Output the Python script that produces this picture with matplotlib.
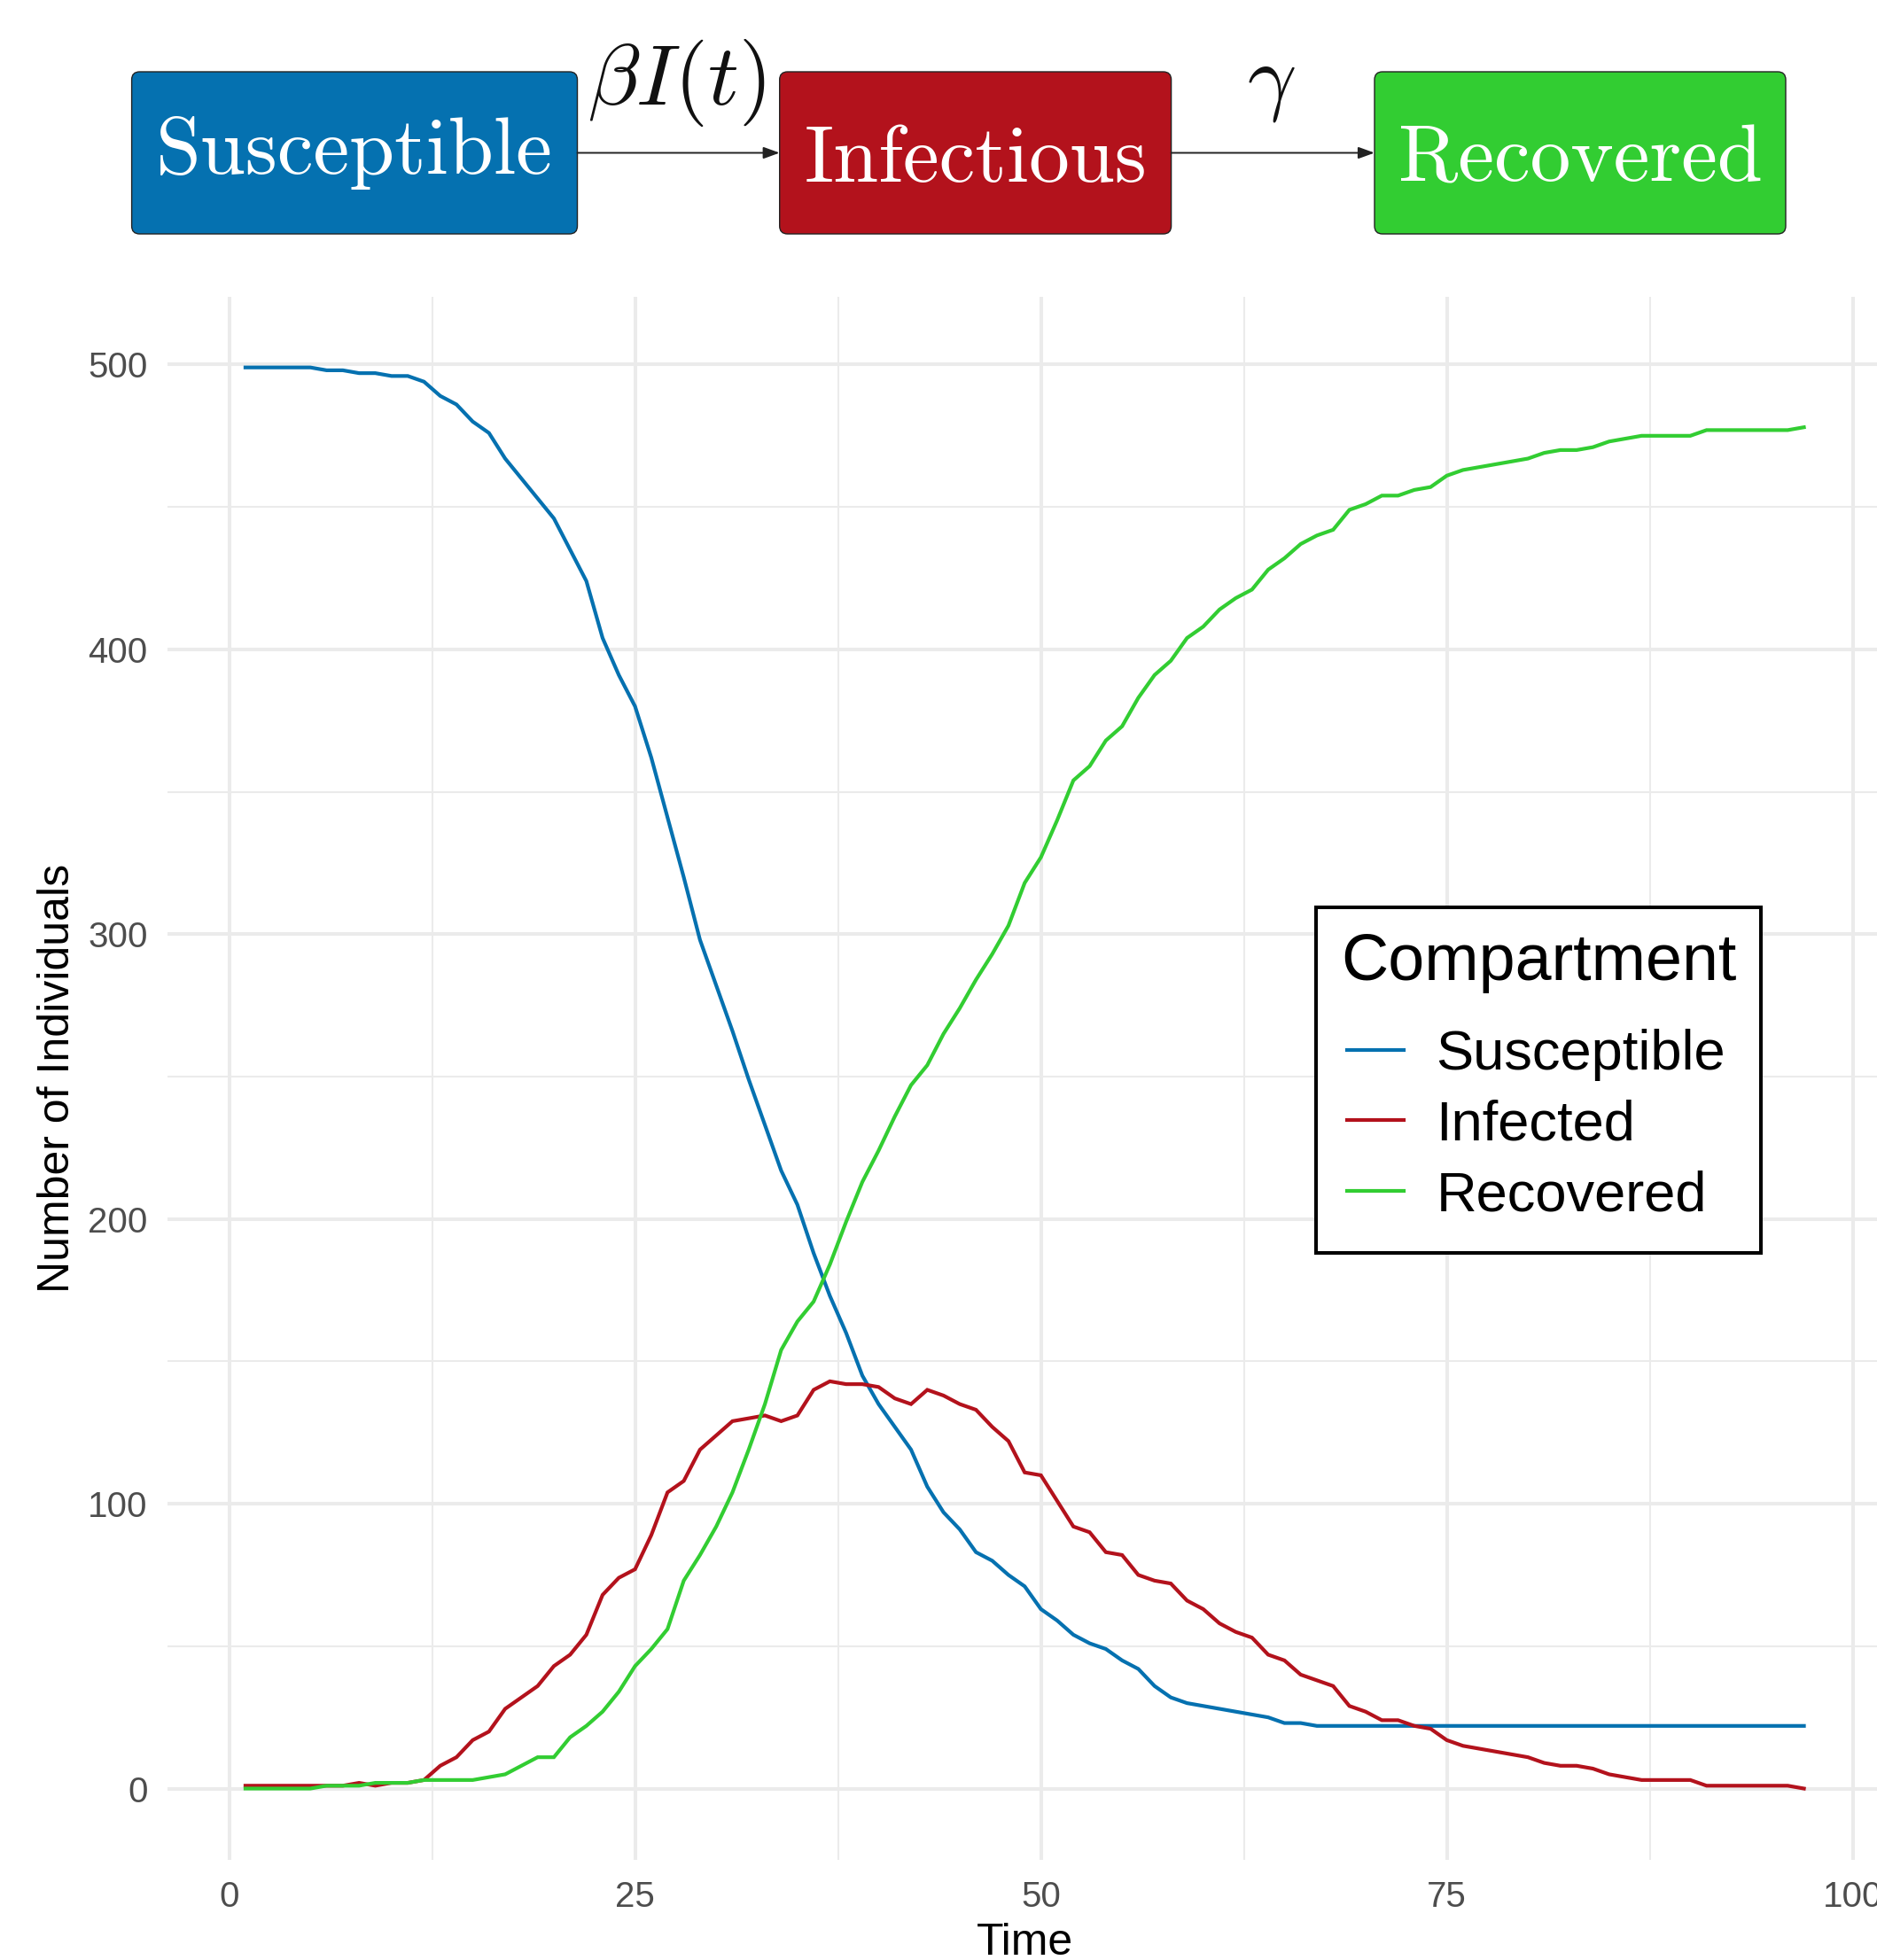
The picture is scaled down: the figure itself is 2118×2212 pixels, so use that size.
import matplotlib
matplotlib.use("Agg")
import matplotlib.pyplot as plt
from matplotlib.patches import FancyBboxPatch

# ---------------- data ----------------
time = list(range(1, 98))

susceptible = [499, 499, 499, 499, 499, 498, 498, 497, 497, 496,
               496, 494, 489, 486, 480, 476, 467, 460, 453, 446,
               435, 424, 404, 391, 380, 362, 341, 320, 298, 282,
               266, 249, 233, 217, 205, 188, 173, 160, 145, 135,
               127, 119, 106, 97, 91, 83, 80, 75, 71, 63,
               59, 54, 51, 49, 45, 42, 36, 32, 30, 29,
               28, 27, 26, 25, 23, 23, 22, 22, 22, 22,
               22, 22, 22, 22, 22, 22, 22, 22, 22, 22,
               22, 22, 22, 22, 22, 22, 22, 22, 22, 22,
               22, 22, 22, 22, 22, 22, 22]

infected = [1, 1, 1, 1, 1, 1, 1, 2, 1, 2,
            2, 3, 8, 11, 17, 20, 28, 32, 36, 43,
            47, 54, 68, 74, 77, 89, 104, 108, 119, 124,
            129, 130, 131, 129, 131, 140, 143, 142, 142, 141,
            137, 135, 140, 138, 135, 133, 127, 122, 111, 110,
            101, 92, 90, 83, 82, 75, 73, 72, 66, 63,
            58, 55, 53, 47, 45, 40, 38, 36, 29, 27,
            24, 24, 22, 21, 17, 15, 14, 13, 12, 11,
            9, 8, 8, 7, 5, 4, 3, 3, 3, 3,
            1, 1, 1, 1, 1, 1, 0]

recovered = [0, 0, 0, 0, 0, 1, 1, 1, 2, 2,
             2, 3, 3, 3, 3, 4, 5, 8, 11, 11,
             18, 22, 27, 34, 43, 49, 56, 73, 82, 92,
             104, 119, 135, 154, 164, 171, 184, 199, 213, 224,
             236, 247, 254, 265, 274, 284, 293, 303, 318, 327,
             340, 354, 359, 368, 373, 383, 391, 396, 404, 408,
             414, 418, 421, 428, 432, 437, 440, 442, 449, 451,
             454, 454, 456, 457, 461, 463, 464, 465, 466, 467,
             469, 470, 470, 471, 473, 474, 475, 475, 475, 475,
             477, 477, 477, 477, 477, 477, 478]

legend_labels = ["Susceptible", "Infected", "Recovered"]
box_labels = ["Susceptible", "Infectious", "Recovered"]
rate_labels = [r"$\beta I(t)$", r"$\gamma$"]
x_ticks = [0, 25, 50, 75, 100]
y_ticks = [0, 100, 200, 300, 400, 500]

c_s = "#0571B0"
c_i = "#B3121C"
c_r = "#32CD32"
colors = [c_s, c_i, c_r]

# ---------------- figure ----------------
plt.rcParams["font.family"] = ["Liberation Sans", "DejaVu Sans"]
plt.rcParams["mathtext.fontset"] = "cm"

W, H = 2118, 2212
fig = plt.figure(figsize=(W / 100, H / 100), dpi=100)
fig.patch.set_facecolor("white")

# main panel (pixel extents of the reference panel)
left, right, top, bottom = 189, 2118, 334.5, 2098.7
ax = fig.add_axes([left / W, 1 - bottom / H, (right - left) / W, (bottom - top) / H])

for series, col, lab in zip([susceptible, infected, recovered], colors, legend_labels):
    ax.plot(time, series, color=col, lw=3.0, label=lab, solid_joinstyle="miter")

ax.set_xlim(-3.8, 101.5)
ax.set_ylim(-24.95, 523.95)
ax.set_xticks(x_ticks)
ax.set_yticks(y_ticks)
ax.set_xticks([12.5, 37.5, 62.5, 87.5], minor=True)
ax.set_yticks([50, 150, 250, 350, 450], minor=True)
ax.grid(which="major", color="#EBEBEB", lw=2.9)
ax.grid(which="minor", color="#EBEBEB", lw=1.5)
ax.set_axisbelow(True)
for sp in ax.spines.values():
    sp.set_visible(False)
ax.tick_params(which="both", length=0)
ax.tick_params(axis="x", labelsize=29, pad=17, labelcolor="#4D4D4D")
ax.tick_params(axis="y", labelsize=29, pad=16, labelcolor="#4D4D4D")

ax.set_xlabel("Time", fontsize=36, color="black")
ax.set_ylabel("Number of Individuals", fontsize=36, color="black")
axw = right - left
axh = bottom - top
ax.xaxis.set_label_coords((1156 - left) / axw, -(2170 - bottom) / axh)
ax.yaxis.set_label_coords(-(left - 88) / axw, 0.5)

leg = ax.legend(title="Compartment", loc="upper left",
                bbox_to_anchor=(1485 / W, 1 - 1023.5 / H),
                bbox_transform=fig.transFigure, borderaxespad=0,
                fontsize=45.5, title_fontsize=53, alignment="left",
                handlelength=1.02, handletextpad=0.57, labelspacing=0.327,
                borderpad=0.444, fancybox=False, framealpha=1,
                edgecolor="black")
leg.get_frame().set_linewidth(2.9)
# fine spacing: indent entries a little relative to the title, open title gap
leg._legend_handle_box.pad = 5.0
leg._legend_box.sep = 24.0

# ---------------- header diagram ----------------
hh = 300
hax = fig.add_axes([0, 1 - hh / H, 1, hh / H])
hax.set_xlim(0, W)
hax.set_ylim(hh, 0)
hax.axis("off")

boxes = [(148.6, 651.5), (879.7, 1321.6), (1551.0, 2015.0)]
baselines = [195.5, 204.5, 204.5]
by0, by1 = 81, 264
for (x0, x1), col, lab, bl in zip(boxes, colors, box_labels, baselines):
    p = FancyBboxPatch((x0, by0), x1 - x0, by1 - by0,
                       boxstyle="round,pad=0,rounding_size=9",
                       facecolor=col, edgecolor="#222222", lw=1.0)
    hax.add_patch(p)
    hax.text((x0 + x1) / 2, bl, lab, family="cmr10", fontsize=66,
             color="white", ha="center", va="baseline")

ay = 172.5
for (a, b), lab in zip([(boxes[0][1], boxes[1][0]), (boxes[1][1], boxes[2][0])], rate_labels):
    hax.annotate("", xy=(b, ay), xytext=(a, ay),
                 arrowprops=dict(arrowstyle="-|>,head_length=0.55,head_width=0.2",
                                 lw=1.4, color="#222222", mutation_scale=20,
                                 shrinkA=0, shrinkB=0))
    hax.text((a + b) / 2 - 2, 118, lab, fontsize=70, color="#111111",
             ha="center", va="baseline")

fig.savefig("out.png", dpi=100, facecolor="white")
